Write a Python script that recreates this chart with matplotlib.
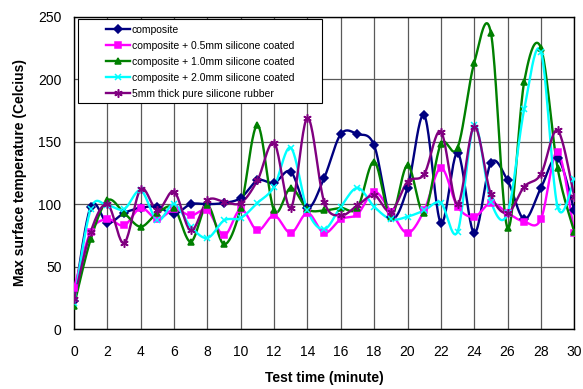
import numpy as np
import matplotlib
matplotlib.use('agg')
import matplotlib.pyplot as plt
from matplotlib import rc
from matplotlib.patches import Rectangle

rc('font', family=['Liberation Sans', 'DejaVu Sans'], size=10)

minutes = list(range(31))

composite = [23, 98, 85, 93, 97, 98, 92, 100, 100, 101, 105, 119, 117, 126, 97, 121,
             156, 156, 147, 90, 113, 171, 85, 141, 77, 133, 119, 88, 113, 137, 95]
coat05 = [33, 78, 88, 83, 97, 88, 96, 91, 95, 75, 96, 79, 91, 77, 93, 77,
          88, 92, 110, 94, 77, 95, 129, 98, 90, 101, 93, 86, 88, 142, 77]
coat10 = [19, 72, 103, 93, 82, 93, 97, 70, 99, 68, 97, 163, 95, 113, 96, 95,
          97, 97, 134, 90, 131, 93, 148, 145, 213, 237, 81, 198, 225, 129, 78]
coat20 = [21, 96, 99, 96, 111, 87, 100, 82, 73, 87, 89, 101, 114, 145, 95, 80,
          98, 113, 98, 88, 90, 95, 101, 78, 163, 102, 93, 176, 222, 98, 120]
rubber = [24, 78, 100, 69, 112, 95, 110, 79, 103, 102, 101, 119, 149, 97, 169, 102,
          91, 99, 107, 94, 118, 124, 158, 100, 162, 108, 93, 114, 124, 159, 106]

labels = ['composite',
          'composite + 0.5mm silicone coated',
          'composite + 1.0mm silicone coated',
          'composite + 2.0mm silicone coated',
          '5mm thick pure silicone rubber']
series = [composite, coat05, coat10, coat20, rubber]
colors = ['#000080', '#FF00FF', '#008000', '#00FFFF', '#800080']
markers = ['D', 's', '^', 'x', (6, 2, 0)]
msizes = [4, 5, 5, 5, 6]


def smooth(x, y, n=24):
    # excel-like smoothed line (catmull-rom bezier)
    x = np.asarray(x, float)
    y = np.asarray(y, float)
    px = np.concatenate(([x[0]], x, [x[-1]]))
    py = np.concatenate(([y[0]], y, [y[-1]]))
    t = np.linspace(0, 1, n)
    xs, ys = [], []
    for i in range(1, len(px) - 2):
        b0x, b0y = px[i], py[i]
        b3x, b3y = px[i + 1], py[i + 1]
        b1x = b0x + (px[i + 1] - px[i - 1]) / 6
        b1y = b0y + (py[i + 1] - py[i - 1]) / 6
        b2x = b3x - (px[i + 2] - px[i]) / 6
        b2y = b3y - (py[i + 2] - py[i]) / 6
        xs.append((1-t)**3*b0x + 3*(1-t)**2*t*b1x + 3*(1-t)*t**2*b2x + t**3*b3x)
        ys.append((1-t)**3*b0y + 3*(1-t)**2*t*b1y + 3*(1-t)*t**2*b2y + t**3*b3y)
    return np.concatenate(xs), np.concatenate(ys)


fig = plt.figure(figsize=(5.83, 3.89), dpi=100)
ax = fig.add_axes([0.127, 0.1535, 0.858, 0.804])

for vals, lab, c, m, ms in zip(series, labels, colors, markers, msizes):
    sx, sy = smooth(minutes, vals)
    ax.plot(sx, sy, color=c, linewidth=1.7, zorder=3)
    ax.plot(minutes, vals, linestyle='none', marker=m, color=c, markersize=ms,
            markeredgewidth=1.1, zorder=4)
    ax.plot([], [], color=c, linewidth=1.7, marker=m, markersize=ms,
            markeredgewidth=1.1, label=lab)

ax.set_xlim(0, 30)
ax.set_ylim(0, 250)
ax.set_xticks(range(0, 31, 2))
ax.set_yticks(range(0, 251, 50))
ax.grid(True, color='0.35', linewidth=0.9)
ax.set_axisbelow(True)
ax.tick_params(axis='x', length=0, pad=11, labelsize=10)
ax.tick_params(axis='y', length=0, pad=9, labelsize=10)
for sp in ax.spines.values():
    sp.set_color('black')
    sp.set_linewidth(1.0)

ax.set_xlabel('Test time (minute)', fontweight='bold', fontsize=10, labelpad=9)
ax.set_ylabel('Max surface temperature (Celcius)', fontweight='bold', fontsize=10, labelpad=8)

# legend box drawn separately (excel style, blank space left of the keys)
box = Rectangle((0.008, 0.725), 0.488, 0.266, transform=ax.transAxes,
                facecolor='white', edgecolor='black', linewidth=0.8, zorder=9)
ax.add_patch(box)
leg = ax.legend(loc='upper left', bbox_to_anchor=(0.064, 0.974), fontsize=7.5,
                frameon=False, handlelength=2.3, handletextpad=0.15,
                labelspacing=0.58, borderpad=0.0, borderaxespad=0.0)
leg.set_zorder(10)

plt.savefig('out.png', dpi=100)
